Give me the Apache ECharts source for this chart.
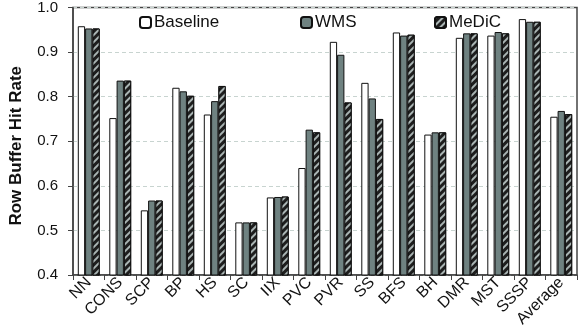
<!DOCTYPE html>
<html>
<head>
<meta charset="utf-8">
<script src="https://cdn.jsdelivr.net/npm/echarts@6/dist/echarts.min.js"></script>
<style>
  html, body { margin: 0; padding: 0; background: #fff; }
  #chart { width: 581px; height: 334px; }
</style>
</head>
<body>
<div id="chart"></div>
<script>
var categories = ['NN', 'CONS', 'SCP', 'BP', 'HS', 'SC', 'IIX', 'PVC', 'PVR', 'SS', 'BFS', 'BH', 'DMR', 'MST', 'SSSP', 'Average'];
var baseline = [0.958, 0.752, 0.545, 0.820, 0.760, 0.518, 0.574, 0.640, 0.923, 0.831, 0.944, 0.715, 0.932, 0.937, 0.974, 0.755];
var wms      = [0.953, 0.836, 0.567, 0.812, 0.790, 0.518, 0.575, 0.726, 0.894, 0.796, 0.937, 0.720, 0.942, 0.945, 0.968, 0.768];
var medic    = [0.953, 0.836, 0.567, 0.802, 0.824, 0.518, 0.576, 0.720, 0.787, 0.750, 0.939, 0.720, 0.942, 0.942, 0.968, 0.761];

var chart = echarts.init(document.getElementById('chart'));

var font = 'Liberation Sans, Arial, Helvetica, sans-serif';

// one legend per item so each sits where the original has it
function legendAt(name, left) {
    return {
        data: [name],
        left: left,
        top: 9,
        itemWidth: 11,
        itemHeight: 11,
        itemGap: 0,
        textStyle: { fontFamily: font, fontSize: 17, color: '#111', padding: [0, 0, 0, -2] }
    };
}

var option = {
    animation: false,
    legend: [
        legendAt('Baseline', 134),
        legendAt('WMS', 295),
        legendAt('MeDiC', 429)
    ],
    grid: { left: 63, right: 4, top: 6, bottom: 59, show: true, borderColor: '#444', borderWidth: 1.5 },
    xAxis: {
        type: 'category',
        data: categories,
        axisLine: { lineStyle: { color: '#444', width: 1.5 } },
        axisTick: { show: true, length: 5, lineStyle: { color: '#444' } },
        axisLabel: { rotate: 45, margin: 5, fontFamily: font, fontSize: 16, color: '#111' }
    },
    yAxis: {
        type: 'value',
        min: 0.4,
        max: 1.0,
        interval: 0.1,
        name: 'Row Buffer Hit Rate',
        nameLocation: 'middle',
        nameGap: 48,
        nameTextStyle: { fontFamily: font, fontSize: 17, fontWeight: 'bold', color: '#111', padding: [0, 9, 0, 0] },
        axisLine: { show: true, lineStyle: { color: '#444', width: 1.5 } },
        axisTick: { show: true, length: 5, lineStyle: { color: '#444' } },
        axisLabel: {
            fontFamily: font, fontSize: 15, color: '#111', margin: 15,
            formatter: function (v) { return v.toFixed(1); }
        },
        splitLine: { lineStyle: { color: '#c8d4d0', type: [4, 3], width: 1 } }
    },
    series: [
        {
            name: 'Baseline', type: 'bar', data: baseline,
            barWidth: 7.3, barGap: '0%',
            itemStyle: { color: '#fff', borderColor: '#111', borderWidth: 1 }
        },
        {
            name: 'WMS', type: 'bar', data: wms,
            barWidth: 7.3,
            itemStyle: { color: '#6f8281', borderColor: '#111', borderWidth: 1 }
        },
        {
            name: 'MeDiC', type: 'bar', data: medic,
            barWidth: 7.3,
            itemStyle: {
                color: '#1e1e1e', borderColor: '#111', borderWidth: 1,
                decal: {
                    symbol: 'rect',
                    color: '#a9b4b3',
                    dashArrayX: [1, 0],
                    dashArrayY: [2, 3],
                    rotation: -Math.PI / 4
                }
            }
        }
    ]
};

chart.setOption(option);
</script>
</body>
</html>
